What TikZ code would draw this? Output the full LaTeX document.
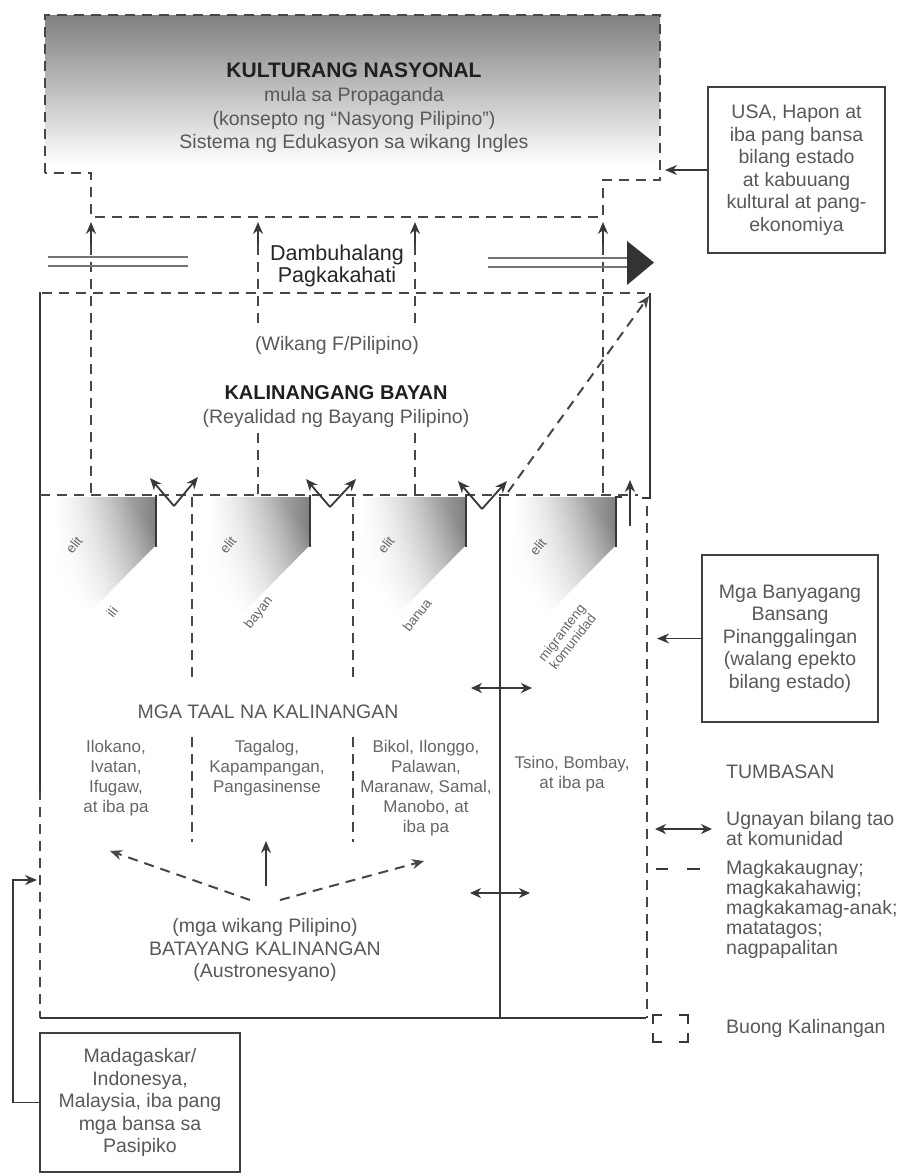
\documentclass[tikz,border=0pt]{standalone}
\usepackage{fontspec}
\setmainfont{Liberation Sans}
\usetikzlibrary{arrows.meta,fadings}
\begin{document}
\begin{tikzpicture}[x=1pt,y=-1pt,
  ln/.style={draw=black!78, line width=1.8pt},
  thin/.style={draw=black!55, line width=1.5pt},
  dsh/.style={draw=black!72, line width=2pt, dash pattern=on 10pt off 7pt},
  arr/.style={-{Stealth[length=12pt,width=10pt]}},
  darr/.style={{Stealth[length=11pt,width=10pt]}-{Stealth[length=11pt,width=10pt]}},
  txt/.style={text=black!65, font=\fontsize{19.5}{22}\selectfont, align=center, inner sep=0pt},
  hdr/.style={text=black!88, font=\fontsize{21}{24}\selectfont\bfseries, align=center, inner sep=0pt},
  col/.style={text=black!60, font=\fontsize{17}{20}\selectfont, align=center, inner sep=0pt},
  lbl/.style={text=black!60, font=\fontsize{13.5}{14}\selectfont, align=center, inner sep=0pt},
  box/.style={draw=black!75, line width=1.8pt, text=black!65, font=\fontsize{19.5}{22.5}\selectfont, align=center, inner sep=2pt},
  lgd/.style={text=black!65, font=\fontsize{19.5}{20}\selectfont, align=left, inner sep=0pt},
  elite/.style={top color=black!50, bottom color=white, shading angle=-50, path fading=west},
]
\useasboundingbox (0,0) rectangle (898,1175);
\fill[white] (0,0) rectangle (898,1175);

% ---------- top box: Kulturang Nasyonal ----------
\shade[top color=black!50, bottom color=white] (45,15) rectangle (660,165);
\draw[dsh] (45,173) -- (45,15) -- (660,15) -- (660,180) -- (603,180) -- (603,217) -- (91,217) -- (91,173) -- cycle;
\node[hdr] (kn) at (354,70) {KULTURANG NASYONAL};
\node[txt] (kn2) at (354,96) {mula sa Propaganda};
\node[txt] (kn3) at (354,120) {(konsepto ng “Nasyong Pilipino”)};
\node[txt] (kn4) at (354,143) {Sistema ng Edukasyon sa wikang Ingles};

% up arrows into the top box
\foreach \x/\n in {91/a,258/b,415/c,603/d}{
  \coordinate (up\n) at (\x,222);
  \draw[ln,arr] (\x,245) -- (up\n);
}
\draw[dsh] (91,245) -- (91,495);
\draw[dsh] (258,245) -- (258,329);
\draw[dsh] (258,433) -- (258,495);
\draw[dsh] (415,245) -- (415,329);
\draw[dsh] (415,433) -- (415,495);
\draw[dsh] (603,245) -- (603,495);

% Dambuhalang Pagkakahati
\draw[thin] (48,257) -- (188,257);
\draw[thin] (48,266) -- (188,266);
\draw[thin] (488,258) -- (628,258);
\draw[thin] (488,267) -- (628,267);
\fill[black!80] (627,241) -- (654,262.5) -- (627,285) -- cycle;
\node[txt, text=black!85, font=\fontsize{21.5}{22}\selectfont] (dam) at (337,255) {Dambuhalang};
\node[txt, text=black!85, font=\fontsize{21.5}{22}\selectfont] (pag) at (337,277) {Pagkakahati};

% USA box
\node[box, minimum width=177pt, minimum height=166pt] (usa) at (796.5,170)
  {USA, Hapon at\\iba pang bansa\\bilang estado\\at kabuuang\\kultural at pang-\\ekonomiya};
\coordinate (usaIn) at (665,170);
\draw[ln,arr] (usa.west) -- (usaIn);

% ---------- Kalinangang Bayan box ----------
\draw[dsh] (42,293) -- (645,293);
\draw[ln] (40,292) -- (40,790);
\draw[dsh] (40,790) -- (40,1018);
\draw[ln] (40,1018) -- (646,1018);
\draw[ln] (650,293) -- (650,498) -- (642,498);
\draw[dsh] (647,506) -- (647,1018);

\node[txt] (wik) at (337,345) {(Wikang F/Pilipino)};
\node[hdr, font=\fontsize{20}{22}\selectfont\bfseries] (kb) at (336,393) {KALINANGANG BAYAN};
\node[txt] (rey) at (336,418) {(Reyalidad ng Bayang Pilipino)};

% elite line
\draw[dsh] (40,495) -- (638,495);

% elite shapes
\shade[elite] (55,497) -- (156,497) -- (156,545) -- (92,610) -- (55,610) -- cycle;
\shade[elite] (208,497) -- (310,497) -- (310,545) -- (246,610) -- (208,610) -- cycle;
\shade[elite] (362,497) -- (466,497) -- (466,545) -- (402,610) -- (362,610) -- cycle;
\shade[elite] (514,497) -- (616,497) -- (616,545) -- (552,610) -- (514,610) -- cycle;
\draw[ln] (156,495) -- (156,547);
\draw[ln] (310,495) -- (310,547);
\draw[ln] (466,495) -- (466,547);
\draw[ln] (622,497) -- (616,497) -- (616,547);

\node[lbl, rotate=52] (e1) at (74,545) {elit};
\node[lbl, rotate=52] (e2) at (228,545) {elit};
\node[lbl, rotate=52] (e3) at (386,545) {elit};
\node[lbl, rotate=52] (e4) at (538,547) {elit};
\node[lbl, rotate=52] (l1) at (112,612) {ili};
\node[lbl, rotate=52] (l2) at (259,613) {bayan};
\node[lbl, rotate=52] (l3) at (417,615) {banua};
\node[lbl, rotate=52] (l4) at (567,637) {migranteng\\komunidad};

% V arrows
\foreach \bx/\by/\lx/\ly/\rx/\ry in {174/506/150/478/198/477, 330/507/306/479/356/479, 482/509/458/481/507/481}{
  \draw[ln,arr] (\bx,\by) -- (\lx,\ly);
  \draw[ln,arr] (\bx,\by) -- (\rx,\ry);
}
\draw[ln,arr] (630,526) -- (630,480);
\coordinate (corner) at (649,296);
\draw[dsh,arr] (508,492) -- (corner);

% ---------- Mga taal na kalinangan ----------
\draw[dsh] (192,497) -- (192,680);
\draw[dsh] (192,737) -- (192,842);
\draw[dsh] (353,497) -- (353,680);
\draw[dsh] (353,737) -- (353,842);
\draw[ln] (500,497) -- (500,1018);
\draw[ln,darr] (471,688) -- (532,688);
\draw[ln,darr] (470,893) -- (530,893);

\node[txt] (taal) at (268,712) {MGA TAAL NA KALINANGAN};
\node[col] (c1) at (116,778) {Ilokano,\\Ivatan,\\Ifugaw,\\at iba pa};
\node[col] (c2) at (267,768) {Tagalog,\\Kapampangan,\\Pangasinense};
\node[col] (c3) at (426,788) {Bikol, Ilonggo,\\Palawan,\\Maranaw, Samal,\\Manobo, at\\iba pa};
\node[col] (c4) at (572,774) {Tsino, Bombay,\\at iba pa};

% Batayang kalinangan
\coordinate (vL) at (250,900);
\coordinate (vR) at (280,900);
\draw[dsh,arr] (vL) -- (110,851);
\draw[dsh,arr] (vR) -- (424,861);
\draw[ln,arr] (266,886) -- (266,841);
\node[txt] (bk1) at (265,927) {(mga wikang Pilipino)};
\node[txt] (bk2) at (265,949) {BATAYANG KALINANGAN};
\node[txt] (bk3) at (265,972) {(Austronesyano)};

% Mga Banyagang box
\node[box, minimum width=176pt, minimum height=167pt] (bany) at (790,638.5)
  {Mga Banyagang\\Bansang\\Pinanggalingan\\(walang epekto\\bilang estado)};
\coordinate (banyIn) at (657,638.5);
\draw[ln,arr] (bany.west) -- (banyIn);

% Madagaskar box
\node[box, minimum width=200pt, minimum height=139pt] (mada) at (140,1102.5)
  {Madagaskar/\\Indonesya,\\Malaysia, iba pang\\mga bansa sa\\Pasipiko};
\coordinate (madaIn) at (37,880);
\draw[ln,arr] (mada.west) -- ++(-26,0) |- (madaIn);

% ---------- legend ----------
\node[lgd, anchor=west] (tum) at (726,772) {TUMBASAN};
\coordinate (lgA) at (655,829);
\coordinate (lgB) at (712,829);
\draw[ln,darr] (lgA) -- (lgB);
\node[lgd, anchor=west] (ug) at (726,829) {Ugnayan bilang tao\\at komunidad};
\draw[ln] (656,869) -- (668,869);
\draw[ln] (687,869) -- (700,869);
\node[lgd, anchor=north west] (mag) at (726,860) {Magkakaugnay;\\magkakahawig;\\magkakamag-anak;\\matatagos;\\nagpapalitan};
\draw[ln] (653,1024) -- (653,1015) -- (662,1015);
\draw[ln] (679,1015) -- (688,1015) -- (688,1024);
\draw[ln] (653,1033) -- (653,1042) -- (662,1042);
\draw[ln] (679,1042) -- (688,1042) -- (688,1033);
\node[lgd, anchor=west] (buong) at (726,1028) {Buong Kalinangan};
\end{tikzpicture}
\end{document}
